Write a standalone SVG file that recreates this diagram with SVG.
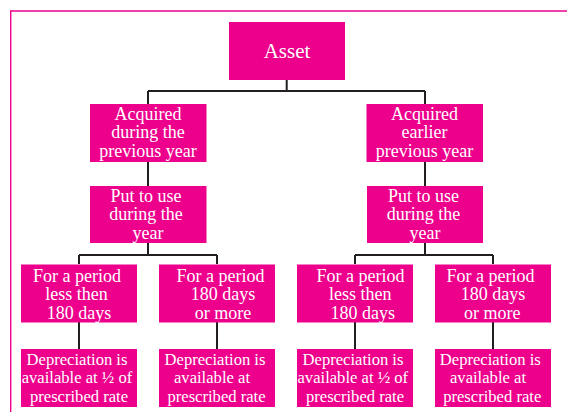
<svg xmlns="http://www.w3.org/2000/svg" width="567" height="412" viewBox="0 0 567 412">
<style>
.box{fill:#EC008C}
.t{fill:#fff;font-family:"Liberation Serif","Times New Roman",serif;text-anchor:middle}
.t18{font-size:18px}
.t17{font-size:16.6px}
.t21{font-size:21px}
.c{fill:none;stroke:#231F20;stroke-width:2}
.frame{fill:none;stroke:#EC008C;stroke-width:1.4}
</style>
<rect width="567" height="412" fill="#fff"/>
<path class="frame" d="M10.7,412 V11 H567"/>
<g id="connectors">
<path class="c" d="M286.7,80 V91 M148,91 H425 M148,91 V104 M425,91 V104"/>
<path class="c" d="M148,162 V186 M425,162 V186"/>
<path class="c" d="M148,243 V255 M79,255 H217 M79,255 V264 M217,255 V264"/>
<path class="c" d="M425,243 V255 M355,255 H493 M355,255 V264 M493,255 V264"/>
<path class="c" d="M79,322 V349 M217,322 V349 M355,322 V349 M493,322 V349"/>
</g>
<g id="asset">
<rect class="box" x="229" y="22" width="116" height="58"/>
<text class="t t21" x="287" y="58">Asset</text>
</g>
<g id="acq-during">
<rect class="box" x="90" y="104" width="116.5" height="58"/>
<text class="t t18" x="148" y="120">Acquired</text>
<text class="t t18" x="148" y="138">during the</text>
<text class="t t18" x="148" y="157">previous year</text>
</g>
<g id="acq-earlier">
<rect class="box" x="366.5" y="104" width="116.5" height="58"/>
<text class="t t18" x="424.5" y="120">Acquired</text>
<text class="t t18" x="424.5" y="138">earlier</text>
<text class="t t18" x="424.5" y="157">previous year</text>
</g>
<g id="put-left">
<rect class="box" x="90" y="186" width="116.5" height="57"/>
<text class="t t18" x="146" y="202">Put to use</text>
<text class="t t18" x="146" y="220">during the</text>
<text class="t t18" x="148" y="238.5">year</text>
</g>
<g id="put-right">
<rect class="box" x="367" y="186" width="116" height="57"/>
<text class="t t18" x="423.5" y="202">Put to use</text>
<text class="t t18" x="423.5" y="220">during the</text>
<text class="t t18" x="425" y="238.5">year</text>
</g>
<g id="less-left">
<rect class="box" x="21" y="264.5" width="116" height="58"/>
<text class="t t18" x="77" y="282">For a period</text>
<text class="t t18" x="76.5" y="300">less then</text>
<text class="t t18" x="79" y="318.5">180 days</text>
</g>
<g id="more-left">
<rect class="box" x="159" y="264.5" width="116" height="58"/>
<text class="t t18" x="220.5" y="282">For a period</text>
<text class="t t18" x="223" y="300">180 days</text>
<text class="t t18" x="223" y="318.5">or more</text>
</g>
<g id="less-right">
<rect class="box" x="297" y="264.5" width="116" height="58"/>
<text class="t t18" x="360.5" y="282">For a period</text>
<text class="t t18" x="360.3" y="300">less then</text>
<text class="t t18" x="362.8" y="318.5">180 days</text>
</g>
<g id="more-right">
<rect class="box" x="435" y="264.5" width="116" height="58"/>
<text class="t t18" x="490.5" y="282">For a period</text>
<text class="t t18" x="493" y="300">180 days</text>
<text class="t t18" x="492.3" y="318.5">or more</text>
</g>
<g id="dep-half-left">
<rect class="box" x="21" y="349" width="116" height="58"/>
<text class="t t17" x="77" y="365">Depreciation is</text>
<text class="t t17" x="77" y="383">available at ½ of</text>
<text class="t t17" x="79" y="402">prescribed rate</text>
</g>
<g id="dep-full-left">
<rect class="box" x="159" y="349" width="116" height="58"/>
<text class="t t17" x="215" y="365">Depreciation is</text>
<text class="t t17" x="212" y="383">available at</text>
<text class="t t17" x="216.5" y="402">prescribed rate</text>
</g>
<g id="dep-half-right">
<rect class="box" x="297" y="349" width="116" height="58"/>
<text class="t t17" x="353" y="365">Depreciation is</text>
<text class="t t17" x="352.8" y="383">available at ½ of</text>
<text class="t t17" x="355" y="402">prescribed rate</text>
</g>
<g id="dep-full-right">
<rect class="box" x="435" y="349" width="116" height="58"/>
<text class="t t17" x="490.3" y="365">Depreciation is</text>
<text class="t t17" x="488" y="383">available at</text>
<text class="t t17" x="492.2" y="402">prescribed rate</text>
</g>
</svg>
